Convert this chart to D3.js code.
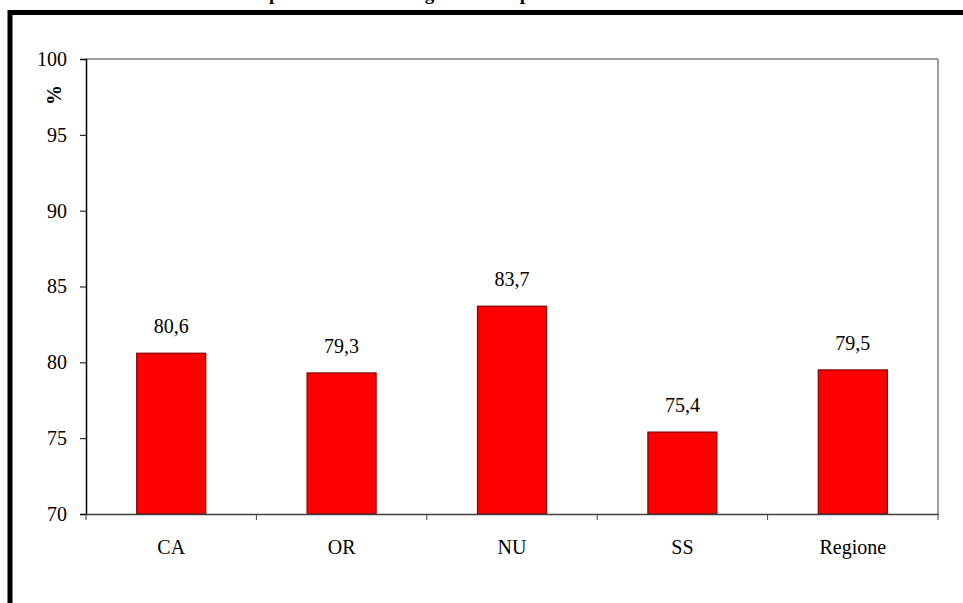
<!DOCTYPE html>
<html><head><meta charset="utf-8">
<script src="https://cdn.jsdelivr.net/npm/d3@7"></script>
<style>body{margin:0;background:#fff}svg{display:block}</style>
</head><body>
<svg id="c" width="963" height="603"></svg>
<script>
const categories = ["CA", "OR", "NU", "SS", "Regione"];
const values = [80.6, 79.3, 83.7, 75.4, 79.5];
const yTicks = [70, 75, 80, 85, 90, 95, 100];
const titleText = "Percentuale di persone che hanno giudicato il percorso di cura";
const yLabel = "%";

const svg = d3.select("#c");
const font = "'Liberation Serif', 'Times New Roman', serif";
const m = {left: 86, right: 938, top: 59, bottom: 514};

// title, cut off at the top edge as in the reference
svg.append("text").attr("x", 148).attr("y", 0).attr("font-family", font)
  .attr("font-weight", "bold").attr("font-size", 19).attr("fill", "#000").text(titleText);

// outer frame (partly outside the view)
svg.append("rect").attr("x", 10).attr("y", 12.5).attr("width", 1000).attr("height", 700)
  .attr("fill", "none").attr("stroke", "#000").attr("stroke-width", 5);

const x = d3.scaleBand().domain(categories).range([m.left, m.right]);
const y = d3.scaleLinear().domain([70, 100]).range([m.bottom, m.top]);

// plot frame top/right
svg.append("line").attr("x1", m.left).attr("x2", m.right).attr("y1", m.top).attr("y2", m.top)
  .attr("stroke", "#808080").attr("stroke-width", 1.5);
svg.append("line").attr("x1", m.right).attr("x2", m.right).attr("y1", m.top).attr("y2", m.bottom)
  .attr("stroke", "#808080").attr("stroke-width", 1.5);

const bw = x.bandwidth() * 0.405;
svg.append("g").selectAll("rect").data(values).join("rect")
  .attr("x", (d, i) => x(categories[i]) + x.bandwidth() / 2 - bw / 2)
  .attr("y", d => y(d)).attr("width", bw).attr("height", d => y(70) - y(d))
  .attr("fill", "#ff0000").attr("stroke", "#800000").attr("stroke-width", 1.2);

svg.append("g").selectAll("text").data(values).join("text")
  .attr("x", (d, i) => x(categories[i]) + x.bandwidth() / 2)
  .attr("y", d => y(d) - 20).attr("text-anchor", "middle")
  .attr("font-family", font).attr("font-size", 20).attr("fill", "#000")
  .text(d => d.toFixed(1).replace(".", ","));

// y axis
const ya = svg.append("g").attr("transform", `translate(${m.left},0)`)
  .call(d3.axisLeft(y).tickValues(yTicks).tickSize(6).tickPadding(13).tickFormat(d3.format("d")));
ya.attr("font-family", font);
ya.select(".domain").attr("stroke", "#000").attr("stroke-width", 1.5);
ya.selectAll(".tick line").attr("stroke", "#000");
ya.selectAll("text").attr("font-family", font).attr("font-size", 20).attr("fill", "#000");

// x axis
const xa = svg.append("g").attr("transform", `translate(0,${m.bottom})`)
  .call(d3.axisBottom(x).tickSize(0).tickPadding(26));
xa.attr("font-family", font);
xa.select(".domain").attr("stroke", "#404040").attr("stroke-width", 1.5);
xa.selectAll("text").attr("font-family", font).attr("font-size", 20).attr("fill", "#000");
// boundary ticks
const bounds = categories.map(c => x(c)).concat([m.right]);
svg.append("g").selectAll("line").data(bounds).join("line")
  .attr("x1", d => d).attr("x2", d => d).attr("y1", m.bottom).attr("y2", m.bottom + 6)
  .attr("stroke", "#404040").attr("stroke-width", 1);

svg.append("text").attr("transform", "translate(61,95) rotate(-90)")
  .attr("text-anchor", "middle").attr("font-family", font).attr("font-weight", "bold")
  .attr("font-size", 20).attr("fill", "#000").text(yLabel);
</script>
</body></html>
